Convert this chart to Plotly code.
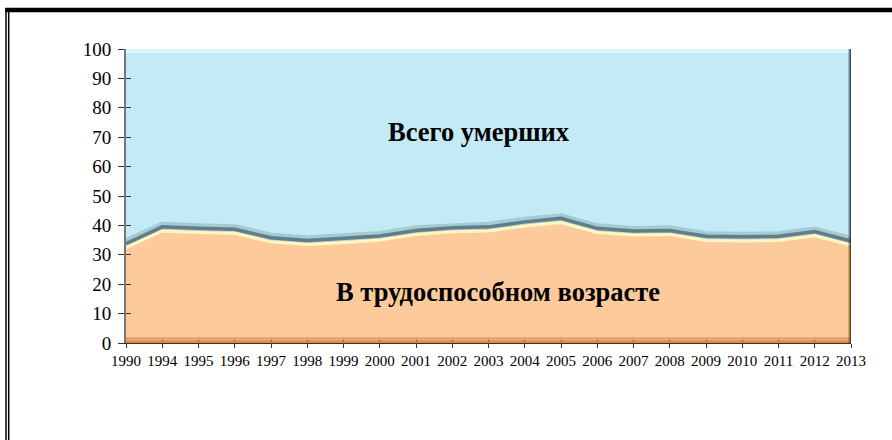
import plotly.graph_objects as go

years = ["1990", "1994", "1995", "1996", "1997", "1998", "1999", "2000", "2001", "2002",
         "2003", "2004", "2005", "2006", "2007", "2008", "2009", "2010", "2011", "2012", "2013"]
working_age = [33.0, 38.7, 38.2, 37.9, 35.0, 34.1, 34.8, 35.6, 37.5, 38.4,
               38.7, 40.4, 41.6, 38.2, 37.3, 37.5, 35.5, 35.3, 35.5, 37.1, 33.9]
total = [100] * len(years)
yticks = list(range(0, 101, 10))

label_total = "Всего умерших"
label_work = "В трудоспособном возрасте"

W, H = 892, 440
L, R, T, B = 126, 41, 49, 97
pw, ph = W - L - R, H - T - B

def px(x):
    return (x - L) / pw

def py(y):
    return (H - B - y) / ph

xs = list(range(len(years)))
FONT = "Liberation Serif, Times New Roman, serif"

fig = go.Figure()
fig.add_trace(go.Scatter(x=xs, y=working_age, mode="lines", line=dict(width=0),
                         fill="tozeroy", fillcolor="#FDCB9B", hoverinfo="skip", showlegend=False))
fig.add_trace(go.Scatter(x=xs, y=total, mode="lines", line=dict(width=0),
                         fill="tonexty", fillcolor="#C4EBF5", hoverinfo="skip", showlegend=False))
# bevel effects along the boundary
fig.add_trace(go.Scatter(x=xs, y=[v + 1.0 for v in working_age], mode="lines",
                         line=dict(color="rgba(110,140,150,0.35)", width=9),
                         hoverinfo="skip", showlegend=False))
fig.add_trace(go.Scatter(x=xs, y=[v + 0.8 for v in working_age], mode="lines",
                         line=dict(color="#5F7E87", width=3.5),
                         hoverinfo="skip", showlegend=False))
fig.add_trace(go.Scatter(x=xs, y=[v - 0.6 for v in working_age], mode="lines",
                         line=dict(color="#FFF6C6", width=3),
                         hoverinfo="skip", showlegend=False))
# invisible trace to activate overlay axes (crossing ticks)
fig.add_trace(go.Scatter(x=[xs[0]], y=[yticks[0]], xaxis="x2", yaxis="y2", mode="markers",
                         marker=dict(opacity=0), hoverinfo="skip", showlegend=False))

shapes = []
shapes.append(dict(type="rect", xref="x", yref="y", x0=0, x1=len(years) - 1, y0=98.6, y1=100,
                   fillcolor="#DDF6FA", line=dict(width=0), layer="above"))
shapes.append(dict(type="rect", xref="x", yref="y", x0=0, x1=len(years) - 1, y0=0.3, y1=2.0,
                   fillcolor="rgba(170,110,60,0.4)", line=dict(width=0), layer="above"))
shapes.append(dict(type="line", xref="x", yref="y", x0=0, x1=len(years) - 1, y0=0.25, y1=0.25,
                   line=dict(color="#F0802A", width=2), layer="above"))
last = working_age[-1]
for w, c in [(0.08, "rgba(60,90,100,0.35)"), (0.05, "rgba(40,70,80,0.5)"), (0.025, "rgba(30,50,60,0.7)")]:
    shapes.append(dict(type="rect", xref="x", yref="y", x0=len(years) - 1 - w, x1=len(years) - 1,
                       y0=last, y1=100, fillcolor=c, line=dict(width=0), layer="above"))
for w, c in [(0.08, "rgba(140,80,30,0.35)"), (0.05, "rgba(110,60,20,0.5)"), (0.025, "rgba(80,40,10,0.7)")]:
    shapes.append(dict(type="rect", xref="x", yref="y", x0=len(years) - 1 - w, x1=len(years) - 1,
                       y0=0, y1=last, fillcolor=c, line=dict(width=0), layer="above"))

# outer frame
shapes.append(dict(type="line", xref="paper", yref="paper", x0=px(6), x1=px(6), y0=py(8), y1=py(440),
                   line=dict(color="black", width=1.5)))
shapes.append(dict(type="line", xref="paper", yref="paper", x0=px(8.7), x1=px(8.7), y0=py(10), y1=py(440),
                   line=dict(color="black", width=1.5)))
shapes.append(dict(type="rect", xref="paper", yref="paper", x0=px(5.3), x1=px(892), y0=py(12.3), y1=py(7.7),
                   fillcolor="black", line=dict(width=0)))

fig.update_layout(
    width=W, height=H,
    margin=dict(l=L, r=R, t=T, b=B, pad=0),
    paper_bgcolor="white", plot_bgcolor="white",
    shapes=shapes,
    font=dict(family=FONT, color="black"),
    xaxis=dict(range=[0, len(years) - 1], tickmode="array", tickvals=xs, ticktext=years,
               showgrid=False, zeroline=False, showline=True, linecolor="#333333", linewidth=1,
               ticks="outside", ticklen=4, tickcolor="#333333", tickfont=dict(size=15, family=FONT)),
    yaxis=dict(range=[0, 100], tickmode="array", tickvals=yticks,
               showgrid=False, zeroline=False, showline=True, linecolor="#777777", linewidth=2,
               ticks="outside", ticklen=6, tickcolor="#333333", ticklabelstandoff=3,
               tickfont=dict(size=19, family=FONT)),
    xaxis2=dict(overlaying="x", anchor="y2", side="bottom", range=[0, len(years) - 1], tickmode="array",
                tickvals=xs, showticklabels=False, showgrid=False, zeroline=False, showline=False,
                ticks="inside", ticklen=3, tickcolor="#333333"),
    yaxis2=dict(overlaying="y", anchor="x2", side="left", range=[0, 100], tickmode="array",
                tickvals=yticks, showticklabels=False, showgrid=False, zeroline=False, showline=False,
                ticks="inside", ticklen=5, tickcolor="#333333"),
    annotations=[
        dict(x=9.75, y=71.8, xref="x", yref="y", text="<b>" + label_total + "</b>", showarrow=False,
             font=dict(size=26.5, family=FONT, color="black")),
        dict(x=10.25, y=17.3, xref="x", yref="y", text="<b>" + label_work + "</b>", showarrow=False,
             font=dict(size=26.5, family=FONT, color="black")),
    ],
)

fig.write_html("out.html", config={"displayModeBar": False},
               post_script="document.body.style.margin='0';document.body.style.padding='0';")
